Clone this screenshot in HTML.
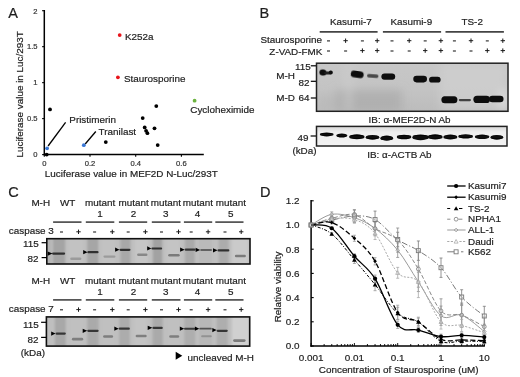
<!DOCTYPE html>
<html><head><meta charset="utf-8"><style>
html,body{margin:0;padding:0;background:#fff;}
svg{display:block;filter:blur(0.3px);font-family:"Liberation Sans",sans-serif;}
</style></head><body>
<svg width="520" height="377" viewBox="0 0 520 377">
<defs><filter id="bl1" x="-50%" y="-50%" width="200%" height="200%"><feGaussianBlur stdDeviation="0.9"/></filter>
<filter id="bl2" x="-50%" y="-50%" width="200%" height="200%"><feGaussianBlur stdDeviation="0.6"/></filter>
<filter id="bl12" x="-50%" y="-50%" width="200%" height="200%"><feGaussianBlur stdDeviation="1.1 0.3"/></filter>
<filter id="bl05" x="-50%" y="-50%" width="200%" height="200%"><feGaussianBlur stdDeviation="0.45"/></filter>
<filter id="bl07" x="-50%" y="-50%" width="200%" height="200%"><feGaussianBlur stdDeviation="0.7"/></filter>
<filter id="bl4" x="-50%" y="-50%" width="200%" height="200%"><feGaussianBlur stdDeviation="4"/></filter>
<clipPath id="clipB1"><rect x="316.5" y="63.2" width="191.5" height="48.1"/></clipPath><clipPath id="clip238"><rect x="46.8" y="238.7" width="203.2" height="25.3"/></clipPath><clipPath id="clip316"><rect x="46.4" y="316.9" width="203.3" height="29.2"/></clipPath>
<linearGradient id="gB1" x1="0" y1="0" x2="0" y2="1"><stop offset="0" stop-color="#c7c7c7"/><stop offset="0.5" stop-color="#c4c4c4"/><stop offset="1" stop-color="#bcbcbc"/></linearGradient>
<linearGradient id="gB2" x1="0" y1="0" x2="0" y2="1"><stop offset="0" stop-color="#d8d8d8"/><stop offset="0.3" stop-color="#eeeeee"/><stop offset="1" stop-color="#f2f2f2"/></linearGradient></defs>
<rect width="520" height="377" fill="#fff"/>
<text x="8.30" y="17.90" font-size="14.5" text-anchor="start" fill="#1e1e1e" stroke="#1e1e1e" stroke-width="0.2" >A</text>
<line x1="44.30" y1="10.00" x2="44.30" y2="155.40" stroke="#000" stroke-width="1.5" />
<line x1="43.60" y1="154.60" x2="203.80" y2="154.60" stroke="#000" stroke-width="1.5" />
<line x1="42.10" y1="154.60" x2="44.30" y2="154.60" stroke="#000" stroke-width="1.1" />
<text x="37.60" y="157.40" font-size="7.6" text-anchor="end" fill="#333" stroke="#333" stroke-width="0.2" >0</text>
<line x1="42.10" y1="118.62" x2="44.30" y2="118.62" stroke="#000" stroke-width="1.1" />
<text x="37.60" y="121.42" font-size="7.6" text-anchor="end" fill="#333" stroke="#333" stroke-width="0.2" >0.5</text>
<line x1="42.10" y1="82.65" x2="44.30" y2="82.65" stroke="#000" stroke-width="1.1" />
<text x="37.60" y="85.45" font-size="7.6" text-anchor="end" fill="#333" stroke="#333" stroke-width="0.2" >1</text>
<line x1="42.10" y1="46.67" x2="44.30" y2="46.67" stroke="#000" stroke-width="1.1" />
<text x="37.60" y="49.47" font-size="7.6" text-anchor="end" fill="#333" stroke="#333" stroke-width="0.2" >1.5</text>
<line x1="42.10" y1="10.70" x2="44.30" y2="10.70" stroke="#000" stroke-width="1.1" />
<text x="37.60" y="13.50" font-size="7.6" text-anchor="end" fill="#333" stroke="#333" stroke-width="0.2" >2</text>
<line x1="44.30" y1="154.60" x2="44.30" y2="156.80" stroke="#000" stroke-width="1.1" />
<text x="44.30" y="165.70" font-size="7.6" text-anchor="middle" fill="#333" stroke="#333" stroke-width="0.2" >0</text>
<line x1="90.00" y1="154.60" x2="90.00" y2="156.80" stroke="#000" stroke-width="1.1" />
<text x="90.00" y="165.70" font-size="7.6" text-anchor="middle" fill="#333" stroke="#333" stroke-width="0.2" >0.2</text>
<line x1="135.70" y1="154.60" x2="135.70" y2="156.80" stroke="#000" stroke-width="1.1" />
<text x="135.70" y="165.70" font-size="7.6" text-anchor="middle" fill="#333" stroke="#333" stroke-width="0.2" >0.4</text>
<line x1="181.40" y1="154.60" x2="181.40" y2="156.80" stroke="#000" stroke-width="1.1" />
<text x="181.40" y="165.70" font-size="7.6" text-anchor="middle" fill="#333" stroke="#333" stroke-width="0.2" >0.6</text>
<text x="131.30" y="177.30" font-size="9.9" text-anchor="middle" fill="#1e1e1e" stroke="#1e1e1e" stroke-width="0.2" >Luciferase value in MEF2D N-Luc/293T</text>
<text x="23.30" y="94.40" font-size="9.9" text-anchor="middle" fill="#1e1e1e" stroke="#1e1e1e" stroke-width="0.2" transform="rotate(-90 23.3 94.4)">Luciferase value in Luc/293T</text>
<line x1="48.10" y1="146.00" x2="65.60" y2="122.30" stroke="#000" stroke-width="1.3" />
<line x1="85.20" y1="144.00" x2="95.80" y2="131.50" stroke="#000" stroke-width="1.3" />
<circle cx="50.00" cy="109.40" r="1.9" fill="#000" />
<circle cx="46.70" cy="154.60" r="1.9" fill="#000" />
<circle cx="105.80" cy="142.10" r="1.9" fill="#000" />
<circle cx="156.30" cy="106.10" r="1.9" fill="#000" />
<circle cx="142.70" cy="118.10" r="1.9" fill="#000" />
<circle cx="144.70" cy="127.40" r="1.9" fill="#000" />
<circle cx="146.10" cy="130.80" r="1.9" fill="#000" />
<circle cx="147.40" cy="133.20" r="1.9" fill="#000" />
<circle cx="154.50" cy="128.30" r="1.9" fill="#000" />
<circle cx="157.70" cy="145.10" r="1.9" fill="#000" />
<circle cx="119.70" cy="35.10" r="1.9" fill="#e8141b" />
<circle cx="117.90" cy="77.30" r="1.9" fill="#e8141b" />
<circle cx="194.60" cy="100.70" r="1.9" fill="#6cb33f" />
<circle cx="47.10" cy="148.30" r="1.9" fill="#3a78d6" />
<circle cx="83.80" cy="145.20" r="1.9" fill="#3a78d6" />
<text x="125.00" y="39.70" font-size="9.9" text-anchor="start" fill="#1e1e1e" stroke="#1e1e1e" stroke-width="0.2" >K252a</text>
<text x="124.00" y="81.50" font-size="9.9" text-anchor="start" fill="#1e1e1e" stroke="#1e1e1e" stroke-width="0.2" >Staurosporine</text>
<text x="190.30" y="112.50" font-size="9.9" text-anchor="start" fill="#1e1e1e" stroke="#1e1e1e" stroke-width="0.2" >Cycloheximide</text>
<text x="69.30" y="122.90" font-size="9.9" text-anchor="start" fill="#1e1e1e" stroke="#1e1e1e" stroke-width="0.2" >Pristimerin</text>
<text x="98.60" y="134.80" font-size="9.9" text-anchor="start" fill="#1e1e1e" stroke="#1e1e1e" stroke-width="0.2" >Tranilast</text>
<text x="259.60" y="17.70" font-size="14.5" text-anchor="start" fill="#1e1e1e" stroke="#1e1e1e" stroke-width="0.2" >B</text>
<text x="350.90" y="24.80" font-size="9.9" text-anchor="middle" fill="#1e1e1e" stroke="#1e1e1e" stroke-width="0.2" >Kasumi-7</text>
<text x="411.30" y="24.90" font-size="9.9" text-anchor="middle" fill="#1e1e1e" stroke="#1e1e1e" stroke-width="0.2" >Kasumi-9</text>
<text x="472.20" y="24.90" font-size="9.9" text-anchor="middle" fill="#1e1e1e" stroke="#1e1e1e" stroke-width="0.2" >TS-2</text>
<line x1="319.70" y1="31.90" x2="377.60" y2="31.90" stroke="#444" stroke-width="1.7" />
<line x1="382.90" y1="31.90" x2="441.10" y2="31.90" stroke="#444" stroke-width="1.7" />
<line x1="445.50" y1="31.90" x2="503.90" y2="31.90" stroke="#444" stroke-width="1.7" />
<text x="322.00" y="42.60" font-size="9.9" text-anchor="end" fill="#1e1e1e" stroke="#1e1e1e" stroke-width="0.2" >Staurosporine</text>
<text x="322.40" y="54.70" font-size="9.9" text-anchor="end" fill="#1e1e1e" stroke="#1e1e1e" stroke-width="0.2" >Z-VAD-FMK</text>
<line x1="327.00" y1="40.90" x2="330.00" y2="40.90" stroke="#222" stroke-width="1.1" />
<line x1="327.00" y1="51.00" x2="330.00" y2="51.00" stroke="#222" stroke-width="1.1" />
<line x1="343.40" y1="40.70" x2="347.80" y2="40.70" stroke="#1a1a1a" stroke-width="1.0" />
<line x1="345.60" y1="38.50" x2="345.60" y2="42.90" stroke="#1a1a1a" stroke-width="1.0" />
<line x1="344.10" y1="51.00" x2="347.10" y2="51.00" stroke="#222" stroke-width="1.1" />
<line x1="360.90" y1="40.90" x2="363.90" y2="40.90" stroke="#222" stroke-width="1.1" />
<line x1="360.20" y1="50.60" x2="364.60" y2="50.60" stroke="#1a1a1a" stroke-width="1.0" />
<line x1="362.40" y1="48.40" x2="362.40" y2="52.80" stroke="#1a1a1a" stroke-width="1.0" />
<line x1="375.00" y1="40.70" x2="379.40" y2="40.70" stroke="#1a1a1a" stroke-width="1.0" />
<line x1="377.20" y1="38.50" x2="377.20" y2="42.90" stroke="#1a1a1a" stroke-width="1.0" />
<line x1="375.00" y1="50.60" x2="379.40" y2="50.60" stroke="#1a1a1a" stroke-width="1.0" />
<line x1="377.20" y1="48.40" x2="377.20" y2="52.80" stroke="#1a1a1a" stroke-width="1.0" />
<line x1="390.50" y1="40.90" x2="393.50" y2="40.90" stroke="#222" stroke-width="1.1" />
<line x1="390.50" y1="51.00" x2="393.50" y2="51.00" stroke="#222" stroke-width="1.1" />
<line x1="407.00" y1="40.70" x2="411.40" y2="40.70" stroke="#1a1a1a" stroke-width="1.0" />
<line x1="409.20" y1="38.50" x2="409.20" y2="42.90" stroke="#1a1a1a" stroke-width="1.0" />
<line x1="407.70" y1="51.00" x2="410.70" y2="51.00" stroke="#222" stroke-width="1.1" />
<line x1="423.70" y1="40.90" x2="426.70" y2="40.90" stroke="#222" stroke-width="1.1" />
<line x1="423.00" y1="50.60" x2="427.40" y2="50.60" stroke="#1a1a1a" stroke-width="1.0" />
<line x1="425.20" y1="48.40" x2="425.20" y2="52.80" stroke="#1a1a1a" stroke-width="1.0" />
<line x1="438.70" y1="40.70" x2="443.10" y2="40.70" stroke="#1a1a1a" stroke-width="1.0" />
<line x1="440.90" y1="38.50" x2="440.90" y2="42.90" stroke="#1a1a1a" stroke-width="1.0" />
<line x1="438.70" y1="50.60" x2="443.10" y2="50.60" stroke="#1a1a1a" stroke-width="1.0" />
<line x1="440.90" y1="48.40" x2="440.90" y2="52.80" stroke="#1a1a1a" stroke-width="1.0" />
<line x1="452.90" y1="40.90" x2="455.90" y2="40.90" stroke="#222" stroke-width="1.1" />
<line x1="452.90" y1="51.00" x2="455.90" y2="51.00" stroke="#222" stroke-width="1.1" />
<line x1="468.80" y1="40.70" x2="473.20" y2="40.70" stroke="#1a1a1a" stroke-width="1.0" />
<line x1="471.00" y1="38.50" x2="471.00" y2="42.90" stroke="#1a1a1a" stroke-width="1.0" />
<line x1="469.50" y1="51.00" x2="472.50" y2="51.00" stroke="#222" stroke-width="1.1" />
<line x1="485.80" y1="40.90" x2="488.80" y2="40.90" stroke="#222" stroke-width="1.1" />
<line x1="485.10" y1="50.60" x2="489.50" y2="50.60" stroke="#1a1a1a" stroke-width="1.0" />
<line x1="487.30" y1="48.40" x2="487.30" y2="52.80" stroke="#1a1a1a" stroke-width="1.0" />
<line x1="500.60" y1="40.70" x2="505.00" y2="40.70" stroke="#1a1a1a" stroke-width="1.0" />
<line x1="502.80" y1="38.50" x2="502.80" y2="42.90" stroke="#1a1a1a" stroke-width="1.0" />
<line x1="500.60" y1="50.60" x2="505.00" y2="50.60" stroke="#1a1a1a" stroke-width="1.0" />
<line x1="502.80" y1="48.40" x2="502.80" y2="52.80" stroke="#1a1a1a" stroke-width="1.0" />
<text x="276.20" y="79.20" font-size="9.9" text-anchor="start" fill="#1e1e1e" stroke="#1e1e1e" stroke-width="0.2" >M-H</text>
<text x="276.20" y="101.10" font-size="9.9" text-anchor="start" fill="#1e1e1e" stroke="#1e1e1e" stroke-width="0.2" >M-D</text>
<text x="310.80" y="69.60" font-size="9.9" text-anchor="end" fill="#1e1e1e" stroke="#1e1e1e" stroke-width="0.2" >115</text>
<text x="309.60" y="86.00" font-size="9.9" text-anchor="end" fill="#1e1e1e" stroke="#1e1e1e" stroke-width="0.2" >82</text>
<text x="309.60" y="101.40" font-size="9.9" text-anchor="end" fill="#1e1e1e" stroke="#1e1e1e" stroke-width="0.2" >64</text>
<line x1="310.80" y1="65.80" x2="316.50" y2="65.80" stroke="#000" stroke-width="1.2" />
<line x1="310.80" y1="81.30" x2="316.50" y2="81.30" stroke="#000" stroke-width="1.2" />
<line x1="310.80" y1="98.00" x2="316.50" y2="98.00" stroke="#000" stroke-width="1.2" />
<text x="368.60" y="123.20" font-size="9.9" text-anchor="start" fill="#1e1e1e" stroke="#1e1e1e" stroke-width="0.2" >IB: α-MEF2D-N Ab</text>
<text x="308.60" y="140.80" font-size="9.9" text-anchor="end" fill="#1e1e1e" stroke="#1e1e1e" stroke-width="0.2" >49</text>
<line x1="310.60" y1="136.00" x2="316.50" y2="136.00" stroke="#000" stroke-width="1.2" />
<text x="292.40" y="154.10" font-size="9.9" text-anchor="start" fill="#1e1e1e" stroke="#1e1e1e" stroke-width="0.2" >(kDa)</text>
<text x="367.20" y="157.80" font-size="9.9" text-anchor="start" fill="#1e1e1e" stroke="#1e1e1e" stroke-width="0.2" >IB: α-ACTB Ab</text>
<rect x="316.50" y="63.20" width="191.50" height="48.10" fill="url(#gB1)" />
<g clip-path="url(#clipB1)"><g filter="url(#bl4)">
<rect x="336.00" y="90.00" width="66.00" height="22.00" fill="#a9a9a9" opacity="0.7"/>
<rect x="320.00" y="95.00" width="18.00" height="16.00" fill="#b8b8b8" opacity="0.6"/>
<rect x="346.00" y="64.00" width="5.00" height="46.00" fill="#d0d0d0" opacity="0.7"/>
<rect x="440.00" y="64.00" width="66.00" height="46.00" fill="#d2d2d2" opacity="0.6"/>
<rect x="500.00" y="90.00" width="8.00" height="20.00" fill="#e4e4e4" opacity="0.8"/>
</g></g>
<rect x="316.5" y="63.2" width="191.5" height="48.1" fill="none" stroke="#222" stroke-width="1.5"/>
<rect x="319.40" y="69.60" width="7.00" height="6.00" rx="3.00" fill="#0a0a0a" opacity="1.0" filter="url(#bl2)" transform="rotate(6 322.90 72.60)"/>
<rect x="324.00" y="71.50" width="7.00" height="3.00" rx="1.50" fill="#1a1a1a" opacity="0.95" filter="url(#bl2)"/>
<rect x="328.80" y="70.60" width="4.00" height="3.80" rx="1.90" fill="#0a0a0a" opacity="1.0" filter="url(#bl2)"/>
<rect x="350.80" y="71.10" width="12.80" height="6.60" rx="3.30" fill="#0a0a0a" opacity="1.0" filter="url(#bl2)" transform="rotate(8 357.20 74.40)"/>
<rect x="367.00" y="74.20" width="11.50" height="3.60" rx="1.80" fill="#3a3a3a" opacity="0.9" filter="url(#bl2)" transform="rotate(4 372.75 76.00)"/>
<rect x="381.40" y="73.40" width="13.80" height="6.40" rx="3.20" fill="#0a0a0a" opacity="1.0" filter="url(#bl2)"/>
<rect x="413.30" y="75.80" width="13.70" height="6.60" rx="3.30" fill="#0a0a0a" opacity="1.0" filter="url(#bl2)"/>
<rect x="429.10" y="76.80" width="11.50" height="5.80" rx="2.90" fill="#0a0a0a" opacity="1.0" filter="url(#bl2)"/>
<rect x="441.40" y="96.20" width="16.00" height="7.00" rx="3.50" fill="#0a0a0a" opacity="1.0" filter="url(#bl2)"/>
<rect x="458.80" y="98.95" width="12.20" height="2.30" rx="1.15" fill="#2a2a2a" opacity="0.85" filter="url(#bl2)"/>
<rect x="473.40" y="95.80" width="16.60" height="7.20" rx="3.60" fill="#0a0a0a" opacity="1.0" filter="url(#bl2)"/>
<rect x="489.00" y="95.70" width="14.50" height="6.60" rx="3.30" fill="#0a0a0a" opacity="1.0" filter="url(#bl2)"/>
<rect x="316.50" y="126.40" width="190.50" height="19.60" fill="url(#gB2)" />
<ellipse cx="326.70" cy="134.40" rx="6.00" ry="2.00" fill="#080808" opacity="1.0" filter="url(#bl2)"/>
<rect x="319.90" y="133.30" width="13.60" height="2.20" rx="1.10" fill="#080808" opacity="1.0" filter="url(#bl2)"/>
<ellipse cx="341.80" cy="135.60" rx="4.70" ry="2.00" fill="#080808" opacity="1.0" filter="url(#bl2)"/>
<rect x="336.30" y="134.50" width="11.00" height="2.20" rx="1.10" fill="#080808" opacity="1.0" filter="url(#bl2)"/>
<ellipse cx="356.85" cy="136.80" rx="6.85" ry="2.50" fill="#080808" opacity="1.0" filter="url(#bl2)"/>
<rect x="349.20" y="135.20" width="15.30" height="3.20" rx="1.60" fill="#080808" opacity="1.0" filter="url(#bl2)"/>
<ellipse cx="372.50" cy="137.30" rx="6.00" ry="2.40" fill="#080808" opacity="1.0" filter="url(#bl2)"/>
<rect x="365.70" y="135.80" width="13.60" height="3.00" rx="1.50" fill="#080808" opacity="1.0" filter="url(#bl2)"/>
<ellipse cx="386.75" cy="138.20" rx="5.55" ry="2.60" fill="#080808" opacity="1.0" filter="url(#bl2)"/>
<rect x="380.40" y="136.50" width="12.70" height="3.40" rx="1.70" fill="#080808" opacity="1.0" filter="url(#bl2)"/>
<ellipse cx="404.05" cy="137.00" rx="6.45" ry="2.30" fill="#080808" opacity="1.0" filter="url(#bl2)"/>
<rect x="396.80" y="135.60" width="14.50" height="2.80" rx="1.40" fill="#080808" opacity="1.0" filter="url(#bl2)"/>
<ellipse cx="420.50" cy="137.30" rx="7.30" ry="2.90" fill="#080808" opacity="1.0" filter="url(#bl2)"/>
<rect x="412.40" y="135.30" width="16.20" height="4.00" rx="2.00" fill="#080808" opacity="1.0" filter="url(#bl2)"/>
<ellipse cx="435.15" cy="136.90" rx="6.65" ry="2.60" fill="#080808" opacity="1.0" filter="url(#bl2)"/>
<rect x="427.70" y="135.20" width="14.90" height="3.40" rx="1.70" fill="#080808" opacity="1.0" filter="url(#bl2)"/>
<ellipse cx="450.35" cy="137.00" rx="6.15" ry="2.40" fill="#080808" opacity="1.0" filter="url(#bl2)"/>
<rect x="443.40" y="135.50" width="13.90" height="3.00" rx="1.50" fill="#080808" opacity="1.0" filter="url(#bl2)"/>
<ellipse cx="465.65" cy="136.40" rx="6.45" ry="2.20" fill="#080808" opacity="1.0" filter="url(#bl2)"/>
<rect x="458.40" y="135.10" width="14.50" height="2.60" rx="1.30" fill="#080808" opacity="1.0" filter="url(#bl2)"/>
<ellipse cx="482.10" cy="136.80" rx="6.40" ry="2.30" fill="#080808" opacity="1.0" filter="url(#bl2)"/>
<rect x="474.90" y="135.40" width="14.40" height="2.80" rx="1.40" fill="#080808" opacity="1.0" filter="url(#bl2)"/>
<ellipse cx="496.85" cy="137.30" rx="5.55" ry="2.40" fill="#080808" opacity="1.0" filter="url(#bl2)"/>
<rect x="490.50" y="135.80" width="12.70" height="3.00" rx="1.50" fill="#080808" opacity="1.0" filter="url(#bl2)"/>
<rect x="316.5" y="126.4" width="190.5" height="19.6" fill="none" stroke="#222" stroke-width="1.5"/>
<text x="8.20" y="197.20" font-size="14.5" text-anchor="start" fill="#1e1e1e" stroke="#1e1e1e" stroke-width="0.2" >C</text>
<text x="31.40" y="205.90" font-size="9.9" text-anchor="start" fill="#1e1e1e" stroke="#1e1e1e" stroke-width="0.2" >M-H</text>
<text x="67.70" y="205.80" font-size="9.9" text-anchor="middle" fill="#1e1e1e" stroke="#1e1e1e" stroke-width="0.2" >WT</text>
<text x="85.10" y="205.80" font-size="9.9" text-anchor="start" fill="#1e1e1e" stroke="#1e1e1e" stroke-width="0.2" >mutant</text>
<text x="100.00" y="217.10" font-size="9.9" text-anchor="middle" fill="#1e1e1e" stroke="#1e1e1e" stroke-width="0.2" >1</text>
<text x="118.50" y="205.80" font-size="9.9" text-anchor="start" fill="#1e1e1e" stroke="#1e1e1e" stroke-width="0.2" >mutant</text>
<text x="133.40" y="217.10" font-size="9.9" text-anchor="middle" fill="#1e1e1e" stroke="#1e1e1e" stroke-width="0.2" >2</text>
<text x="150.80" y="205.80" font-size="9.9" text-anchor="start" fill="#1e1e1e" stroke="#1e1e1e" stroke-width="0.2" >mutant</text>
<text x="165.70" y="217.10" font-size="9.9" text-anchor="middle" fill="#1e1e1e" stroke="#1e1e1e" stroke-width="0.2" >3</text>
<text x="182.70" y="205.80" font-size="9.9" text-anchor="start" fill="#1e1e1e" stroke="#1e1e1e" stroke-width="0.2" >mutant</text>
<text x="197.60" y="217.10" font-size="9.9" text-anchor="middle" fill="#1e1e1e" stroke="#1e1e1e" stroke-width="0.2" >4</text>
<text x="215.80" y="205.80" font-size="9.9" text-anchor="start" fill="#1e1e1e" stroke="#1e1e1e" stroke-width="0.2" >mutant</text>
<text x="230.70" y="217.10" font-size="9.9" text-anchor="middle" fill="#1e1e1e" stroke="#1e1e1e" stroke-width="0.2" >5</text>
<line x1="53.10" y1="222.10" x2="81.50" y2="222.10" stroke="#444" stroke-width="1.6" />
<line x1="85.80" y1="222.10" x2="114.30" y2="222.10" stroke="#444" stroke-width="1.6" />
<line x1="118.90" y1="222.10" x2="147.20" y2="222.10" stroke="#444" stroke-width="1.6" />
<line x1="151.80" y1="222.10" x2="180.50" y2="222.10" stroke="#444" stroke-width="1.6" />
<line x1="183.90" y1="222.10" x2="212.20" y2="222.10" stroke="#444" stroke-width="1.6" />
<line x1="215.30" y1="222.10" x2="243.50" y2="222.10" stroke="#444" stroke-width="1.6" />
<text x="8.80" y="234.30" font-size="9.9" text-anchor="start" fill="#1e1e1e" stroke="#1e1e1e" stroke-width="0.2" >caspase 3</text>
<line x1="60.00" y1="232.00" x2="63.00" y2="232.00" stroke="#222" stroke-width="1.1" />
<line x1="76.30" y1="231.80" x2="80.70" y2="231.80" stroke="#1a1a1a" stroke-width="1.0" />
<line x1="78.50" y1="229.60" x2="78.50" y2="234.00" stroke="#1a1a1a" stroke-width="1.0" />
<line x1="93.10" y1="232.00" x2="96.10" y2="232.00" stroke="#222" stroke-width="1.1" />
<line x1="110.10" y1="231.80" x2="114.50" y2="231.80" stroke="#1a1a1a" stroke-width="1.0" />
<line x1="112.30" y1="229.60" x2="112.30" y2="234.00" stroke="#1a1a1a" stroke-width="1.0" />
<line x1="126.70" y1="232.00" x2="129.70" y2="232.00" stroke="#222" stroke-width="1.1" />
<line x1="143.20" y1="231.80" x2="147.60" y2="231.80" stroke="#1a1a1a" stroke-width="1.0" />
<line x1="145.40" y1="229.60" x2="145.40" y2="234.00" stroke="#1a1a1a" stroke-width="1.0" />
<line x1="160.00" y1="232.00" x2="163.00" y2="232.00" stroke="#222" stroke-width="1.1" />
<line x1="176.30" y1="231.80" x2="180.70" y2="231.80" stroke="#1a1a1a" stroke-width="1.0" />
<line x1="178.50" y1="229.60" x2="178.50" y2="234.00" stroke="#1a1a1a" stroke-width="1.0" />
<line x1="189.70" y1="232.00" x2="192.70" y2="232.00" stroke="#222" stroke-width="1.1" />
<line x1="205.90" y1="231.80" x2="210.30" y2="231.80" stroke="#1a1a1a" stroke-width="1.0" />
<line x1="208.10" y1="229.60" x2="208.10" y2="234.00" stroke="#1a1a1a" stroke-width="1.0" />
<line x1="223.50" y1="232.00" x2="226.50" y2="232.00" stroke="#222" stroke-width="1.1" />
<line x1="239.00" y1="231.80" x2="243.40" y2="231.80" stroke="#1a1a1a" stroke-width="1.0" />
<line x1="241.20" y1="229.60" x2="241.20" y2="234.00" stroke="#1a1a1a" stroke-width="1.0" />
<text x="31.40" y="283.70" font-size="9.9" text-anchor="start" fill="#1e1e1e" stroke="#1e1e1e" stroke-width="0.2" >M-H</text>
<text x="67.70" y="283.60" font-size="9.9" text-anchor="middle" fill="#1e1e1e" stroke="#1e1e1e" stroke-width="0.2" >WT</text>
<text x="85.10" y="283.60" font-size="9.9" text-anchor="start" fill="#1e1e1e" stroke="#1e1e1e" stroke-width="0.2" >mutant</text>
<text x="100.00" y="294.90" font-size="9.9" text-anchor="middle" fill="#1e1e1e" stroke="#1e1e1e" stroke-width="0.2" >1</text>
<text x="118.50" y="283.60" font-size="9.9" text-anchor="start" fill="#1e1e1e" stroke="#1e1e1e" stroke-width="0.2" >mutant</text>
<text x="133.40" y="294.90" font-size="9.9" text-anchor="middle" fill="#1e1e1e" stroke="#1e1e1e" stroke-width="0.2" >2</text>
<text x="150.80" y="283.60" font-size="9.9" text-anchor="start" fill="#1e1e1e" stroke="#1e1e1e" stroke-width="0.2" >mutant</text>
<text x="165.70" y="294.90" font-size="9.9" text-anchor="middle" fill="#1e1e1e" stroke="#1e1e1e" stroke-width="0.2" >3</text>
<text x="182.70" y="283.60" font-size="9.9" text-anchor="start" fill="#1e1e1e" stroke="#1e1e1e" stroke-width="0.2" >mutant</text>
<text x="197.60" y="294.90" font-size="9.9" text-anchor="middle" fill="#1e1e1e" stroke="#1e1e1e" stroke-width="0.2" >4</text>
<text x="215.80" y="283.60" font-size="9.9" text-anchor="start" fill="#1e1e1e" stroke="#1e1e1e" stroke-width="0.2" >mutant</text>
<text x="230.70" y="294.90" font-size="9.9" text-anchor="middle" fill="#1e1e1e" stroke="#1e1e1e" stroke-width="0.2" >5</text>
<line x1="53.10" y1="299.90" x2="81.50" y2="299.90" stroke="#444" stroke-width="1.6" />
<line x1="85.80" y1="299.90" x2="114.30" y2="299.90" stroke="#444" stroke-width="1.6" />
<line x1="118.90" y1="299.90" x2="147.20" y2="299.90" stroke="#444" stroke-width="1.6" />
<line x1="151.80" y1="299.90" x2="180.50" y2="299.90" stroke="#444" stroke-width="1.6" />
<line x1="183.90" y1="299.90" x2="212.20" y2="299.90" stroke="#444" stroke-width="1.6" />
<line x1="215.30" y1="299.90" x2="243.50" y2="299.90" stroke="#444" stroke-width="1.6" />
<text x="8.80" y="312.10" font-size="9.9" text-anchor="start" fill="#1e1e1e" stroke="#1e1e1e" stroke-width="0.2" >caspase 7</text>
<line x1="60.00" y1="309.80" x2="63.00" y2="309.80" stroke="#222" stroke-width="1.1" />
<line x1="76.30" y1="309.60" x2="80.70" y2="309.60" stroke="#1a1a1a" stroke-width="1.0" />
<line x1="78.50" y1="307.40" x2="78.50" y2="311.80" stroke="#1a1a1a" stroke-width="1.0" />
<line x1="93.10" y1="309.80" x2="96.10" y2="309.80" stroke="#222" stroke-width="1.1" />
<line x1="110.10" y1="309.60" x2="114.50" y2="309.60" stroke="#1a1a1a" stroke-width="1.0" />
<line x1="112.30" y1="307.40" x2="112.30" y2="311.80" stroke="#1a1a1a" stroke-width="1.0" />
<line x1="126.70" y1="309.80" x2="129.70" y2="309.80" stroke="#222" stroke-width="1.1" />
<line x1="143.20" y1="309.60" x2="147.60" y2="309.60" stroke="#1a1a1a" stroke-width="1.0" />
<line x1="145.40" y1="307.40" x2="145.40" y2="311.80" stroke="#1a1a1a" stroke-width="1.0" />
<line x1="160.00" y1="309.80" x2="163.00" y2="309.80" stroke="#222" stroke-width="1.1" />
<line x1="176.30" y1="309.60" x2="180.70" y2="309.60" stroke="#1a1a1a" stroke-width="1.0" />
<line x1="178.50" y1="307.40" x2="178.50" y2="311.80" stroke="#1a1a1a" stroke-width="1.0" />
<line x1="189.70" y1="309.80" x2="192.70" y2="309.80" stroke="#222" stroke-width="1.1" />
<line x1="205.90" y1="309.60" x2="210.30" y2="309.60" stroke="#1a1a1a" stroke-width="1.0" />
<line x1="208.10" y1="307.40" x2="208.10" y2="311.80" stroke="#1a1a1a" stroke-width="1.0" />
<line x1="223.50" y1="309.80" x2="226.50" y2="309.80" stroke="#222" stroke-width="1.1" />
<line x1="239.00" y1="309.60" x2="243.40" y2="309.60" stroke="#1a1a1a" stroke-width="1.0" />
<line x1="241.20" y1="307.40" x2="241.20" y2="311.80" stroke="#1a1a1a" stroke-width="1.0" />
<rect x="46.80" y="238.70" width="203.20" height="25.30" fill="#bfbfbf" />
<g filter="url(#bl12)" clip-path="url(#clip238)">
<rect x="46.00" y="238.70" width="5.00" height="25.30" fill="#b4b4b4" />
<rect x="52.90" y="238.70" width="12.30" height="25.30" fill="#a4a4a4" />
<rect x="69.00" y="238.70" width="14.00" height="25.30" fill="#c2c2c2" />
<rect x="87.20" y="238.70" width="11.00" height="25.30" fill="#a6a6a6" />
<rect x="102.00" y="238.70" width="13.00" height="25.30" fill="#c2c2c2" />
<rect x="120.40" y="238.70" width="10.10" height="25.30" fill="#a8a8a8" />
<rect x="135.00" y="238.70" width="13.00" height="25.30" fill="#c6c6c6" />
<rect x="152.90" y="238.70" width="9.30" height="25.30" fill="#a2a2a2" />
<rect x="166.00" y="238.70" width="14.00" height="25.30" fill="#c4c4c4" />
<rect x="184.90" y="238.70" width="9.90" height="25.30" fill="#aaaaaa" />
<rect x="199.00" y="238.70" width="13.00" height="25.30" fill="#bababa" />
<rect x="218.70" y="238.70" width="9.90" height="25.30" fill="#acacac" />
<rect x="232.00" y="238.70" width="16.00" height="25.30" fill="#cacaca" />
</g>
<rect x="52.00" y="252.50" width="13.20" height="2.20" rx="1.10" fill="#2c2c2c" opacity="0.95" filter="url(#bl07)"/>
<rect x="70.20" y="257.55" width="11.20" height="2.50" rx="1.25" fill="#6e6e6e" opacity="0.45" filter="url(#bl07)"/>
<rect x="87.30" y="251.10" width="11.30" height="2.20" rx="1.10" fill="#2c2c2c" opacity="0.95" filter="url(#bl07)"/>
<rect x="103.40" y="255.48" width="12.10" height="2.25" rx="1.12" fill="#6e6e6e" opacity="0.45" filter="url(#bl07)"/>
<rect x="119.50" y="248.70" width="11.00" height="2.20" rx="1.10" fill="#2c2c2c" opacity="0.95" filter="url(#bl07)"/>
<rect x="137.10" y="253.55" width="10.40" height="2.50" rx="1.25" fill="#6e6e6e" opacity="0.7" filter="url(#bl07)"/>
<rect x="151.30" y="247.40" width="10.90" height="2.20" rx="1.10" fill="#2c2c2c" opacity="0.95" filter="url(#bl07)"/>
<rect x="168.20" y="253.95" width="11.50" height="2.50" rx="1.25" fill="#6e6e6e" opacity="0.85" filter="url(#bl07)"/>
<rect x="184.70" y="248.60" width="10.90" height="2.20" rx="1.10" fill="#2c2c2c" opacity="0.9" filter="url(#bl07)"/>
<rect x="200.20" y="249.01" width="11.80" height="1.98" rx="0.99" fill="#333" opacity="0.65" filter="url(#bl07)"/>
<rect x="217.50" y="249.30" width="11.90" height="2.20" rx="1.10" fill="#2c2c2c" opacity="0.95" filter="url(#bl07)"/>
<rect x="234.90" y="254.85" width="11.00" height="2.50" rx="1.25" fill="#6e6e6e" opacity="0.85" filter="url(#bl07)"/>
<rect x="46.8" y="238.7" width="203.2" height="25.3" fill="none" stroke="#111" stroke-width="1.6"/>
<rect x="46.40" y="316.90" width="203.30" height="29.20" fill="#bfbfbf" />
<g filter="url(#bl12)" clip-path="url(#clip316)">
<rect x="54.80" y="316.90" width="10.90" height="29.20" fill="#a8a8a8" />
<rect x="70.00" y="316.90" width="14.00" height="29.20" fill="#c0c0c0" />
<rect x="87.20" y="316.90" width="11.30" height="29.20" fill="#aaaaaa" />
<rect x="102.00" y="316.90" width="13.00" height="29.20" fill="#c0c0c0" />
<rect x="119.20" y="316.90" width="10.60" height="29.20" fill="#acacac" />
<rect x="134.00" y="316.90" width="13.00" height="29.20" fill="#c4c4c4" />
<rect x="152.60" y="316.90" width="10.20" height="29.20" fill="#aaaaaa" />
<rect x="167.00" y="316.90" width="13.00" height="29.20" fill="#c0c0c0" />
<rect x="184.20" y="316.90" width="11.10" height="29.20" fill="#aeaeae" />
<rect x="199.00" y="316.90" width="13.00" height="29.20" fill="#b8b8b8" />
<rect x="216.80" y="316.90" width="11.00" height="29.20" fill="#aeaeae" />
<rect x="232.00" y="316.90" width="17.00" height="29.20" fill="#d0d0d0" />
</g>
<rect x="55.50" y="332.50" width="10.40" height="2.20" rx="1.10" fill="#2c2c2c" opacity="0.9" filter="url(#bl07)"/>
<rect x="71.90" y="337.82" width="11.30" height="2.75" rx="1.38" fill="#6e6e6e" opacity="0.8" filter="url(#bl07)"/>
<rect x="87.20" y="329.70" width="11.50" height="2.20" rx="1.10" fill="#2c2c2c" opacity="0.9" filter="url(#bl07)"/>
<rect x="103.10" y="335.15" width="10.00" height="2.50" rx="1.25" fill="#6e6e6e" opacity="0.8" filter="url(#bl07)"/>
<rect x="118.70" y="327.60" width="11.20" height="2.20" rx="1.10" fill="#2c2c2c" opacity="0.9" filter="url(#bl07)"/>
<rect x="135.60" y="334.75" width="11.10" height="2.50" rx="1.25" fill="#6e6e6e" opacity="0.8" filter="url(#bl07)"/>
<rect x="152.40" y="326.80" width="10.40" height="2.20" rx="1.10" fill="#2c2c2c" opacity="0.9" filter="url(#bl07)"/>
<rect x="169.20" y="335.25" width="10.00" height="2.50" rx="1.25" fill="#6e6e6e" opacity="0.8" filter="url(#bl07)"/>
<rect x="184.00" y="327.71" width="11.30" height="1.98" rx="0.99" fill="#2a2a2a" opacity="0.85" filter="url(#bl07)"/>
<rect x="199.30" y="327.82" width="12.50" height="1.76" rx="0.88" fill="#333" opacity="0.75" filter="url(#bl07)"/>
<rect x="201.10" y="335.30" width="10.70" height="2.00" rx="1.00" fill="#6e6e6e" opacity="0.5" filter="url(#bl07)"/>
<rect x="216.60" y="329.70" width="11.20" height="2.20" rx="1.10" fill="#2c2c2c" opacity="0.9" filter="url(#bl07)"/>
<rect x="233.10" y="339.23" width="12.50" height="2.75" rx="1.38" fill="#6e6e6e" opacity="0.85" filter="url(#bl07)"/>
<rect x="46.4" y="316.9" width="203.3" height="29.2" fill="none" stroke="#111" stroke-width="1.6"/>
<polygon points="47.70,251.50 52.50,253.60 47.70,255.70" fill="#000"/>
<polygon points="83.20,250.10 87.50,252.20 83.20,254.30" fill="#000"/>
<polygon points="115.10,247.60 119.50,249.70 115.10,251.80" fill="#000"/>
<polygon points="147.20,246.30 151.30,248.40 147.20,250.50" fill="#000"/>
<polygon points="180.10,247.60 184.70,249.70 180.10,251.80" fill="#000"/>
<polygon points="195.60,247.80 200.20,249.90 195.60,252.00" fill="#000"/>
<polygon points="213.00,248.20 217.50,250.30 213.00,252.40" fill="#000"/>
<polygon points="51.20,331.50 55.50,333.60 51.20,335.70" fill="#000"/>
<polygon points="82.70,328.70 87.20,330.80 82.70,332.90" fill="#000"/>
<polygon points="114.30,326.60 118.70,328.70 114.30,330.80" fill="#000"/>
<polygon points="147.70,325.70 152.40,327.80 147.70,329.90" fill="#000"/>
<polygon points="179.80,326.60 184.20,328.70 179.80,330.80" fill="#000"/>
<polygon points="194.90,326.60 199.30,328.70 194.90,330.80" fill="#000"/>
<polygon points="212.30,328.00 216.60,330.10 212.30,332.20" fill="#000"/>
<text x="38.80" y="247.30" font-size="9.9" text-anchor="end" fill="#1e1e1e" stroke="#1e1e1e" stroke-width="0.2" >115</text>
<text x="38.40" y="262.40" font-size="9.9" text-anchor="end" fill="#1e1e1e" stroke="#1e1e1e" stroke-width="0.2" >82</text>
<line x1="41.60" y1="242.70" x2="46.80" y2="242.70" stroke="#000" stroke-width="1.2" />
<line x1="41.60" y1="257.60" x2="46.80" y2="257.60" stroke="#000" stroke-width="1.2" />
<text x="38.80" y="327.90" font-size="9.9" text-anchor="end" fill="#1e1e1e" stroke="#1e1e1e" stroke-width="0.2" >115</text>
<text x="38.40" y="342.80" font-size="9.9" text-anchor="end" fill="#1e1e1e" stroke="#1e1e1e" stroke-width="0.2" >82</text>
<line x1="41.10" y1="322.30" x2="46.40" y2="322.30" stroke="#000" stroke-width="1.2" />
<line x1="41.10" y1="337.40" x2="46.40" y2="337.40" stroke="#000" stroke-width="1.2" />
<text x="20.80" y="355.50" font-size="9.9" text-anchor="start" fill="#1e1e1e" stroke="#1e1e1e" stroke-width="0.2" >(kDa)</text>
<polygon points="175.7,351.8 182.3,355.8 175.7,359.8" fill="#000"/>
<text x="187.60" y="361.20" font-size="9.9" text-anchor="start" fill="#1e1e1e" stroke="#1e1e1e" stroke-width="0.2" >uncleaved M-H</text>
<text x="260.00" y="197.20" font-size="14.5" text-anchor="start" fill="#1e1e1e" stroke="#1e1e1e" stroke-width="0.2" >D</text>
<line x1="311.10" y1="200.00" x2="311.10" y2="346.80" stroke="#000" stroke-width="1.5" />
<line x1="310.40" y1="346.00" x2="484.90" y2="346.00" stroke="#000" stroke-width="1.5" />
<line x1="311.10" y1="346.00" x2="313.70" y2="346.00" stroke="#000" stroke-width="1.1" />
<text x="299.60" y="349.40" font-size="9.9" text-anchor="end" fill="#1e1e1e" stroke="#1e1e1e" stroke-width="0.2" >0.0</text>
<line x1="311.10" y1="321.80" x2="313.70" y2="321.80" stroke="#000" stroke-width="1.1" />
<text x="299.60" y="325.20" font-size="9.9" text-anchor="end" fill="#1e1e1e" stroke="#1e1e1e" stroke-width="0.2" >0.2</text>
<line x1="311.10" y1="297.60" x2="313.70" y2="297.60" stroke="#000" stroke-width="1.1" />
<text x="299.60" y="301.00" font-size="9.9" text-anchor="end" fill="#1e1e1e" stroke="#1e1e1e" stroke-width="0.2" >0.4</text>
<line x1="311.10" y1="273.40" x2="313.70" y2="273.40" stroke="#000" stroke-width="1.1" />
<text x="299.60" y="276.80" font-size="9.9" text-anchor="end" fill="#1e1e1e" stroke="#1e1e1e" stroke-width="0.2" >0.6</text>
<line x1="311.10" y1="249.20" x2="313.70" y2="249.20" stroke="#000" stroke-width="1.1" />
<text x="299.60" y="252.60" font-size="9.9" text-anchor="end" fill="#1e1e1e" stroke="#1e1e1e" stroke-width="0.2" >0.8</text>
<line x1="311.10" y1="225.00" x2="313.70" y2="225.00" stroke="#000" stroke-width="1.1" />
<text x="299.60" y="228.40" font-size="9.9" text-anchor="end" fill="#1e1e1e" stroke="#1e1e1e" stroke-width="0.2" >1.0</text>
<line x1="311.10" y1="200.80" x2="313.70" y2="200.80" stroke="#000" stroke-width="1.1" />
<text x="299.60" y="204.20" font-size="9.9" text-anchor="end" fill="#1e1e1e" stroke="#1e1e1e" stroke-width="0.2" >1.2</text>
<line x1="311.10" y1="346.00" x2="311.10" y2="343.00" stroke="#000" stroke-width="0.9" />
<line x1="324.13" y1="346.00" x2="324.13" y2="344.00" stroke="#000" stroke-width="0.9" />
<line x1="331.76" y1="346.00" x2="331.76" y2="344.00" stroke="#000" stroke-width="0.9" />
<line x1="337.17" y1="346.00" x2="337.17" y2="344.00" stroke="#000" stroke-width="0.9" />
<line x1="341.37" y1="346.00" x2="341.37" y2="344.00" stroke="#000" stroke-width="0.9" />
<line x1="344.79" y1="346.00" x2="344.79" y2="344.00" stroke="#000" stroke-width="0.9" />
<line x1="347.69" y1="346.00" x2="347.69" y2="344.00" stroke="#000" stroke-width="0.9" />
<line x1="350.20" y1="346.00" x2="350.20" y2="344.00" stroke="#000" stroke-width="0.9" />
<line x1="352.42" y1="346.00" x2="352.42" y2="344.00" stroke="#000" stroke-width="0.9" />
<line x1="354.40" y1="346.00" x2="354.40" y2="343.00" stroke="#000" stroke-width="0.9" />
<line x1="367.43" y1="346.00" x2="367.43" y2="344.00" stroke="#000" stroke-width="0.9" />
<line x1="375.06" y1="346.00" x2="375.06" y2="344.00" stroke="#000" stroke-width="0.9" />
<line x1="380.47" y1="346.00" x2="380.47" y2="344.00" stroke="#000" stroke-width="0.9" />
<line x1="384.67" y1="346.00" x2="384.67" y2="344.00" stroke="#000" stroke-width="0.9" />
<line x1="388.09" y1="346.00" x2="388.09" y2="344.00" stroke="#000" stroke-width="0.9" />
<line x1="390.99" y1="346.00" x2="390.99" y2="344.00" stroke="#000" stroke-width="0.9" />
<line x1="393.50" y1="346.00" x2="393.50" y2="344.00" stroke="#000" stroke-width="0.9" />
<line x1="395.72" y1="346.00" x2="395.72" y2="344.00" stroke="#000" stroke-width="0.9" />
<line x1="397.70" y1="346.00" x2="397.70" y2="343.00" stroke="#000" stroke-width="0.9" />
<line x1="410.73" y1="346.00" x2="410.73" y2="344.00" stroke="#000" stroke-width="0.9" />
<line x1="418.36" y1="346.00" x2="418.36" y2="344.00" stroke="#000" stroke-width="0.9" />
<line x1="423.77" y1="346.00" x2="423.77" y2="344.00" stroke="#000" stroke-width="0.9" />
<line x1="427.97" y1="346.00" x2="427.97" y2="344.00" stroke="#000" stroke-width="0.9" />
<line x1="431.39" y1="346.00" x2="431.39" y2="344.00" stroke="#000" stroke-width="0.9" />
<line x1="434.29" y1="346.00" x2="434.29" y2="344.00" stroke="#000" stroke-width="0.9" />
<line x1="436.80" y1="346.00" x2="436.80" y2="344.00" stroke="#000" stroke-width="0.9" />
<line x1="439.02" y1="346.00" x2="439.02" y2="344.00" stroke="#000" stroke-width="0.9" />
<line x1="441.00" y1="346.00" x2="441.00" y2="343.00" stroke="#000" stroke-width="0.9" />
<line x1="454.03" y1="346.00" x2="454.03" y2="344.00" stroke="#000" stroke-width="0.9" />
<line x1="461.66" y1="346.00" x2="461.66" y2="344.00" stroke="#000" stroke-width="0.9" />
<line x1="467.07" y1="346.00" x2="467.07" y2="344.00" stroke="#000" stroke-width="0.9" />
<line x1="471.27" y1="346.00" x2="471.27" y2="344.00" stroke="#000" stroke-width="0.9" />
<line x1="474.69" y1="346.00" x2="474.69" y2="344.00" stroke="#000" stroke-width="0.9" />
<line x1="477.59" y1="346.00" x2="477.59" y2="344.00" stroke="#000" stroke-width="0.9" />
<line x1="480.10" y1="346.00" x2="480.10" y2="344.00" stroke="#000" stroke-width="0.9" />
<line x1="482.32" y1="346.00" x2="482.32" y2="344.00" stroke="#000" stroke-width="0.9" />
<line x1="484.30" y1="346.00" x2="484.30" y2="343.00" stroke="#000" stroke-width="0.9" />
<line x1="484.30" y1="346.00" x2="484.30" y2="343.00" stroke="#000" stroke-width="0.9" />
<text x="311.10" y="361.20" font-size="9.9" text-anchor="middle" fill="#1e1e1e" stroke="#1e1e1e" stroke-width="0.2" >0.001</text>
<text x="354.40" y="361.20" font-size="9.9" text-anchor="middle" fill="#1e1e1e" stroke="#1e1e1e" stroke-width="0.2" >0.01</text>
<text x="397.70" y="361.20" font-size="9.9" text-anchor="middle" fill="#1e1e1e" stroke="#1e1e1e" stroke-width="0.2" >0.1</text>
<text x="441.00" y="361.20" font-size="9.9" text-anchor="middle" fill="#1e1e1e" stroke="#1e1e1e" stroke-width="0.2" >1</text>
<text x="484.30" y="361.20" font-size="9.9" text-anchor="middle" fill="#1e1e1e" stroke="#1e1e1e" stroke-width="0.2" >10</text>
<text x="398.70" y="373.30" font-size="9.9" text-anchor="middle" fill="#1e1e1e" stroke="#1e1e1e" stroke-width="0.2" >Concentration of Staurosporine (uM)</text>
<text x="281.40" y="286.90" font-size="9.9" text-anchor="middle" fill="#1e1e1e" stroke="#1e1e1e" stroke-width="0.2" transform="rotate(-90 281.4 286.9)">Relative viability</text>
<line x1="331.76" y1="217.74" x2="331.76" y2="222.58" stroke="#7a7a7a" stroke-width="0.8" />
<line x1="330.26" y1="217.74" x2="333.26" y2="217.74" stroke="#7a7a7a" stroke-width="0.8" />
<line x1="330.26" y1="222.58" x2="333.26" y2="222.58" stroke="#7a7a7a" stroke-width="0.8" />
<line x1="354.40" y1="209.88" x2="354.40" y2="221.98" stroke="#7a7a7a" stroke-width="0.8" />
<line x1="352.90" y1="209.88" x2="355.90" y2="209.88" stroke="#7a7a7a" stroke-width="0.8" />
<line x1="352.90" y1="221.98" x2="355.90" y2="221.98" stroke="#7a7a7a" stroke-width="0.8" />
<line x1="375.06" y1="211.09" x2="375.06" y2="228.03" stroke="#7a7a7a" stroke-width="0.8" />
<line x1="373.56" y1="211.09" x2="376.56" y2="211.09" stroke="#7a7a7a" stroke-width="0.8" />
<line x1="373.56" y1="228.03" x2="376.56" y2="228.03" stroke="#7a7a7a" stroke-width="0.8" />
<line x1="397.70" y1="232.26" x2="397.70" y2="246.78" stroke="#7a7a7a" stroke-width="0.8" />
<line x1="396.20" y1="232.26" x2="399.20" y2="232.26" stroke="#7a7a7a" stroke-width="0.8" />
<line x1="396.20" y1="246.78" x2="399.20" y2="246.78" stroke="#7a7a7a" stroke-width="0.8" />
<line x1="418.36" y1="240.97" x2="418.36" y2="260.33" stroke="#7a7a7a" stroke-width="0.8" />
<line x1="416.86" y1="240.97" x2="419.86" y2="240.97" stroke="#7a7a7a" stroke-width="0.8" />
<line x1="416.86" y1="260.33" x2="419.86" y2="260.33" stroke="#7a7a7a" stroke-width="0.8" />
<line x1="441.00" y1="258.03" x2="441.00" y2="277.39" stroke="#7a7a7a" stroke-width="0.8" />
<line x1="439.50" y1="258.03" x2="442.50" y2="258.03" stroke="#7a7a7a" stroke-width="0.8" />
<line x1="439.50" y1="277.39" x2="442.50" y2="277.39" stroke="#7a7a7a" stroke-width="0.8" />
<line x1="461.66" y1="289.74" x2="461.66" y2="304.25" stroke="#7a7a7a" stroke-width="0.8" />
<line x1="460.16" y1="289.74" x2="463.16" y2="289.74" stroke="#7a7a7a" stroke-width="0.8" />
<line x1="460.16" y1="304.25" x2="463.16" y2="304.25" stroke="#7a7a7a" stroke-width="0.8" />
<line x1="484.30" y1="306.31" x2="484.30" y2="325.67" stroke="#7a7a7a" stroke-width="0.8" />
<line x1="482.80" y1="306.31" x2="485.80" y2="306.31" stroke="#7a7a7a" stroke-width="0.8" />
<line x1="482.80" y1="325.67" x2="485.80" y2="325.67" stroke="#7a7a7a" stroke-width="0.8" />
<line x1="331.76" y1="215.93" x2="331.76" y2="220.77" stroke="#8a8a8a" stroke-width="0.8" />
<line x1="330.26" y1="215.93" x2="333.26" y2="215.93" stroke="#8a8a8a" stroke-width="0.8" />
<line x1="330.26" y1="220.77" x2="333.26" y2="220.77" stroke="#8a8a8a" stroke-width="0.8" />
<line x1="354.40" y1="209.88" x2="354.40" y2="219.56" stroke="#8a8a8a" stroke-width="0.8" />
<line x1="352.90" y1="209.88" x2="355.90" y2="209.88" stroke="#8a8a8a" stroke-width="0.8" />
<line x1="352.90" y1="219.56" x2="355.90" y2="219.56" stroke="#8a8a8a" stroke-width="0.8" />
<line x1="375.06" y1="221.37" x2="375.06" y2="235.89" stroke="#8a8a8a" stroke-width="0.8" />
<line x1="373.56" y1="221.37" x2="376.56" y2="221.37" stroke="#8a8a8a" stroke-width="0.8" />
<line x1="373.56" y1="235.89" x2="376.56" y2="235.89" stroke="#8a8a8a" stroke-width="0.8" />
<line x1="397.70" y1="228.03" x2="397.70" y2="252.22" stroke="#8a8a8a" stroke-width="0.8" />
<line x1="396.20" y1="228.03" x2="399.20" y2="228.03" stroke="#8a8a8a" stroke-width="0.8" />
<line x1="396.20" y1="252.22" x2="399.20" y2="252.22" stroke="#8a8a8a" stroke-width="0.8" />
<line x1="418.36" y1="250.89" x2="418.36" y2="287.19" stroke="#8a8a8a" stroke-width="0.8" />
<line x1="416.86" y1="250.89" x2="419.86" y2="250.89" stroke="#8a8a8a" stroke-width="0.8" />
<line x1="416.86" y1="287.19" x2="419.86" y2="287.19" stroke="#8a8a8a" stroke-width="0.8" />
<line x1="441.00" y1="298.81" x2="441.00" y2="323.01" stroke="#8a8a8a" stroke-width="0.8" />
<line x1="439.50" y1="298.81" x2="442.50" y2="298.81" stroke="#8a8a8a" stroke-width="0.8" />
<line x1="439.50" y1="323.01" x2="442.50" y2="323.01" stroke="#8a8a8a" stroke-width="0.8" />
<line x1="461.66" y1="303.04" x2="461.66" y2="327.25" stroke="#8a8a8a" stroke-width="0.8" />
<line x1="460.16" y1="303.04" x2="463.16" y2="303.04" stroke="#8a8a8a" stroke-width="0.8" />
<line x1="460.16" y1="327.25" x2="463.16" y2="327.25" stroke="#8a8a8a" stroke-width="0.8" />
<line x1="484.30" y1="316.96" x2="484.30" y2="336.32" stroke="#8a8a8a" stroke-width="0.8" />
<line x1="482.80" y1="316.96" x2="485.80" y2="316.96" stroke="#8a8a8a" stroke-width="0.8" />
<line x1="482.80" y1="336.32" x2="485.80" y2="336.32" stroke="#8a8a8a" stroke-width="0.8" />
<line x1="331.76" y1="211.93" x2="331.76" y2="216.77" stroke="#8e8e8e" stroke-width="0.8" />
<line x1="330.26" y1="211.93" x2="333.26" y2="211.93" stroke="#8e8e8e" stroke-width="0.8" />
<line x1="330.26" y1="216.77" x2="333.26" y2="216.77" stroke="#8e8e8e" stroke-width="0.8" />
<line x1="354.40" y1="212.90" x2="354.40" y2="222.58" stroke="#8e8e8e" stroke-width="0.8" />
<line x1="352.90" y1="212.90" x2="355.90" y2="212.90" stroke="#8e8e8e" stroke-width="0.8" />
<line x1="352.90" y1="222.58" x2="355.90" y2="222.58" stroke="#8e8e8e" stroke-width="0.8" />
<line x1="375.06" y1="222.34" x2="375.06" y2="234.44" stroke="#8e8e8e" stroke-width="0.8" />
<line x1="373.56" y1="222.34" x2="376.56" y2="222.34" stroke="#8e8e8e" stroke-width="0.8" />
<line x1="373.56" y1="234.44" x2="376.56" y2="234.44" stroke="#8e8e8e" stroke-width="0.8" />
<line x1="397.70" y1="242.91" x2="397.70" y2="257.43" stroke="#8e8e8e" stroke-width="0.8" />
<line x1="396.20" y1="242.91" x2="399.20" y2="242.91" stroke="#8e8e8e" stroke-width="0.8" />
<line x1="396.20" y1="257.43" x2="399.20" y2="257.43" stroke="#8e8e8e" stroke-width="0.8" />
<line x1="418.36" y1="272.19" x2="418.36" y2="291.55" stroke="#8e8e8e" stroke-width="0.8" />
<line x1="416.86" y1="272.19" x2="419.86" y2="272.19" stroke="#8e8e8e" stroke-width="0.8" />
<line x1="416.86" y1="291.55" x2="419.86" y2="291.55" stroke="#8e8e8e" stroke-width="0.8" />
<line x1="441.00" y1="306.07" x2="441.00" y2="325.43" stroke="#8e8e8e" stroke-width="0.8" />
<line x1="439.50" y1="306.07" x2="442.50" y2="306.07" stroke="#8e8e8e" stroke-width="0.8" />
<line x1="439.50" y1="325.43" x2="442.50" y2="325.43" stroke="#8e8e8e" stroke-width="0.8" />
<line x1="461.66" y1="305.46" x2="461.66" y2="324.82" stroke="#8e8e8e" stroke-width="0.8" />
<line x1="460.16" y1="305.46" x2="463.16" y2="305.46" stroke="#8e8e8e" stroke-width="0.8" />
<line x1="460.16" y1="324.82" x2="463.16" y2="324.82" stroke="#8e8e8e" stroke-width="0.8" />
<line x1="484.30" y1="324.22" x2="484.30" y2="338.74" stroke="#8e8e8e" stroke-width="0.8" />
<line x1="482.80" y1="324.22" x2="485.80" y2="324.22" stroke="#8e8e8e" stroke-width="0.8" />
<line x1="482.80" y1="338.74" x2="485.80" y2="338.74" stroke="#8e8e8e" stroke-width="0.8" />
<line x1="331.76" y1="216.53" x2="331.76" y2="221.37" stroke="#aaaaaa" stroke-width="0.8" />
<line x1="330.26" y1="216.53" x2="333.26" y2="216.53" stroke="#aaaaaa" stroke-width="0.8" />
<line x1="330.26" y1="221.37" x2="333.26" y2="221.37" stroke="#aaaaaa" stroke-width="0.8" />
<line x1="354.40" y1="215.93" x2="354.40" y2="223.19" stroke="#aaaaaa" stroke-width="0.8" />
<line x1="352.90" y1="215.93" x2="355.90" y2="215.93" stroke="#aaaaaa" stroke-width="0.8" />
<line x1="352.90" y1="223.19" x2="355.90" y2="223.19" stroke="#aaaaaa" stroke-width="0.8" />
<line x1="375.06" y1="227.42" x2="375.06" y2="239.52" stroke="#aaaaaa" stroke-width="0.8" />
<line x1="373.56" y1="227.42" x2="376.56" y2="227.42" stroke="#aaaaaa" stroke-width="0.8" />
<line x1="373.56" y1="239.52" x2="376.56" y2="239.52" stroke="#aaaaaa" stroke-width="0.8" />
<line x1="397.70" y1="267.35" x2="397.70" y2="278.24" stroke="#aaaaaa" stroke-width="0.8" />
<line x1="396.20" y1="267.35" x2="399.20" y2="267.35" stroke="#aaaaaa" stroke-width="0.8" />
<line x1="396.20" y1="278.24" x2="399.20" y2="278.24" stroke="#aaaaaa" stroke-width="0.8" />
<line x1="418.36" y1="266.14" x2="418.36" y2="297.60" stroke="#aaaaaa" stroke-width="0.8" />
<line x1="416.86" y1="266.14" x2="419.86" y2="266.14" stroke="#aaaaaa" stroke-width="0.8" />
<line x1="416.86" y1="297.60" x2="419.86" y2="297.60" stroke="#aaaaaa" stroke-width="0.8" />
<line x1="441.00" y1="314.54" x2="441.00" y2="329.06" stroke="#aaaaaa" stroke-width="0.8" />
<line x1="439.50" y1="314.54" x2="442.50" y2="314.54" stroke="#aaaaaa" stroke-width="0.8" />
<line x1="439.50" y1="329.06" x2="442.50" y2="329.06" stroke="#aaaaaa" stroke-width="0.8" />
<line x1="461.66" y1="319.38" x2="461.66" y2="331.48" stroke="#aaaaaa" stroke-width="0.8" />
<line x1="460.16" y1="319.38" x2="463.16" y2="319.38" stroke="#aaaaaa" stroke-width="0.8" />
<line x1="460.16" y1="331.48" x2="463.16" y2="331.48" stroke="#aaaaaa" stroke-width="0.8" />
<line x1="484.30" y1="327.85" x2="484.30" y2="337.53" stroke="#aaaaaa" stroke-width="0.8" />
<line x1="482.80" y1="327.85" x2="485.80" y2="327.85" stroke="#aaaaaa" stroke-width="0.8" />
<line x1="482.80" y1="337.53" x2="485.80" y2="337.53" stroke="#aaaaaa" stroke-width="0.8" />
<line x1="331.76" y1="221.37" x2="331.76" y2="223.79" stroke="#999" stroke-width="0.8" />
<line x1="330.26" y1="221.37" x2="333.26" y2="221.37" stroke="#999" stroke-width="0.8" />
<line x1="330.26" y1="223.79" x2="333.26" y2="223.79" stroke="#999" stroke-width="0.8" />
<line x1="354.40" y1="235.28" x2="354.40" y2="241.34" stroke="#999" stroke-width="0.8" />
<line x1="352.90" y1="235.28" x2="355.90" y2="235.28" stroke="#999" stroke-width="0.8" />
<line x1="352.90" y1="241.34" x2="355.90" y2="241.34" stroke="#999" stroke-width="0.8" />
<line x1="375.06" y1="257.67" x2="375.06" y2="264.93" stroke="#999" stroke-width="0.8" />
<line x1="373.56" y1="257.67" x2="376.56" y2="257.67" stroke="#999" stroke-width="0.8" />
<line x1="373.56" y1="264.93" x2="376.56" y2="264.93" stroke="#999" stroke-width="0.8" />
<line x1="397.70" y1="305.22" x2="397.70" y2="319.74" stroke="#999" stroke-width="0.8" />
<line x1="396.20" y1="305.22" x2="399.20" y2="305.22" stroke="#999" stroke-width="0.8" />
<line x1="396.20" y1="319.74" x2="399.20" y2="319.74" stroke="#999" stroke-width="0.8" />
<line x1="418.36" y1="318.17" x2="418.36" y2="325.43" stroke="#999" stroke-width="0.8" />
<line x1="416.86" y1="318.17" x2="419.86" y2="318.17" stroke="#999" stroke-width="0.8" />
<line x1="416.86" y1="325.43" x2="419.86" y2="325.43" stroke="#999" stroke-width="0.8" />
<line x1="441.00" y1="336.93" x2="441.00" y2="341.77" stroke="#999" stroke-width="0.8" />
<line x1="439.50" y1="336.93" x2="442.50" y2="336.93" stroke="#999" stroke-width="0.8" />
<line x1="439.50" y1="341.77" x2="442.50" y2="341.77" stroke="#999" stroke-width="0.8" />
<line x1="461.66" y1="337.53" x2="461.66" y2="342.37" stroke="#999" stroke-width="0.8" />
<line x1="460.16" y1="337.53" x2="463.16" y2="337.53" stroke="#999" stroke-width="0.8" />
<line x1="460.16" y1="342.37" x2="463.16" y2="342.37" stroke="#999" stroke-width="0.8" />
<line x1="484.30" y1="338.13" x2="484.30" y2="342.98" stroke="#999" stroke-width="0.8" />
<line x1="482.80" y1="338.13" x2="485.80" y2="338.13" stroke="#999" stroke-width="0.8" />
<line x1="482.80" y1="342.98" x2="485.80" y2="342.98" stroke="#999" stroke-width="0.8" />
<line x1="331.76" y1="232.74" x2="331.76" y2="235.16" stroke="#999" stroke-width="0.8" />
<line x1="330.26" y1="232.74" x2="333.26" y2="232.74" stroke="#999" stroke-width="0.8" />
<line x1="330.26" y1="235.16" x2="333.26" y2="235.16" stroke="#999" stroke-width="0.8" />
<line x1="354.40" y1="256.22" x2="354.40" y2="263.48" stroke="#999" stroke-width="0.8" />
<line x1="352.90" y1="256.22" x2="355.90" y2="256.22" stroke="#999" stroke-width="0.8" />
<line x1="352.90" y1="263.48" x2="355.90" y2="263.48" stroke="#999" stroke-width="0.8" />
<line x1="375.06" y1="278.60" x2="375.06" y2="290.70" stroke="#999" stroke-width="0.8" />
<line x1="373.56" y1="278.60" x2="376.56" y2="278.60" stroke="#999" stroke-width="0.8" />
<line x1="373.56" y1="290.70" x2="376.56" y2="290.70" stroke="#999" stroke-width="0.8" />
<line x1="397.70" y1="307.28" x2="397.70" y2="319.38" stroke="#999" stroke-width="0.8" />
<line x1="396.20" y1="307.28" x2="399.20" y2="307.28" stroke="#999" stroke-width="0.8" />
<line x1="396.20" y1="319.38" x2="399.20" y2="319.38" stroke="#999" stroke-width="0.8" />
<line x1="418.36" y1="317.20" x2="418.36" y2="326.88" stroke="#999" stroke-width="0.8" />
<line x1="416.86" y1="317.20" x2="419.86" y2="317.20" stroke="#999" stroke-width="0.8" />
<line x1="416.86" y1="326.88" x2="419.86" y2="326.88" stroke="#999" stroke-width="0.8" />
<line x1="441.00" y1="338.98" x2="441.00" y2="343.82" stroke="#999" stroke-width="0.8" />
<line x1="439.50" y1="338.98" x2="442.50" y2="338.98" stroke="#999" stroke-width="0.8" />
<line x1="439.50" y1="343.82" x2="442.50" y2="343.82" stroke="#999" stroke-width="0.8" />
<line x1="461.66" y1="338.74" x2="461.66" y2="343.58" stroke="#999" stroke-width="0.8" />
<line x1="460.16" y1="338.74" x2="463.16" y2="338.74" stroke="#999" stroke-width="0.8" />
<line x1="460.16" y1="343.58" x2="463.16" y2="343.58" stroke="#999" stroke-width="0.8" />
<line x1="484.30" y1="338.98" x2="484.30" y2="343.82" stroke="#999" stroke-width="0.8" />
<line x1="482.80" y1="338.98" x2="485.80" y2="338.98" stroke="#999" stroke-width="0.8" />
<line x1="482.80" y1="343.82" x2="485.80" y2="343.82" stroke="#999" stroke-width="0.8" />
<line x1="331.76" y1="227.06" x2="331.76" y2="229.48" stroke="#999" stroke-width="0.8" />
<line x1="330.26" y1="227.06" x2="333.26" y2="227.06" stroke="#999" stroke-width="0.8" />
<line x1="330.26" y1="229.48" x2="333.26" y2="229.48" stroke="#999" stroke-width="0.8" />
<line x1="354.40" y1="253.80" x2="354.40" y2="258.64" stroke="#999" stroke-width="0.8" />
<line x1="352.90" y1="253.80" x2="355.90" y2="253.80" stroke="#999" stroke-width="0.8" />
<line x1="352.90" y1="258.64" x2="355.90" y2="258.64" stroke="#999" stroke-width="0.8" />
<line x1="375.06" y1="275.09" x2="375.06" y2="282.35" stroke="#999" stroke-width="0.8" />
<line x1="373.56" y1="275.09" x2="376.56" y2="275.09" stroke="#999" stroke-width="0.8" />
<line x1="373.56" y1="282.35" x2="376.56" y2="282.35" stroke="#999" stroke-width="0.8" />
<line x1="397.70" y1="321.19" x2="397.70" y2="328.45" stroke="#999" stroke-width="0.8" />
<line x1="396.20" y1="321.19" x2="399.20" y2="321.19" stroke="#999" stroke-width="0.8" />
<line x1="396.20" y1="328.45" x2="399.20" y2="328.45" stroke="#999" stroke-width="0.8" />
<line x1="418.36" y1="327.61" x2="418.36" y2="332.45" stroke="#999" stroke-width="0.8" />
<line x1="416.86" y1="327.61" x2="419.86" y2="327.61" stroke="#999" stroke-width="0.8" />
<line x1="416.86" y1="332.45" x2="419.86" y2="332.45" stroke="#999" stroke-width="0.8" />
<line x1="441.00" y1="334.14" x2="441.00" y2="338.98" stroke="#999" stroke-width="0.8" />
<line x1="439.50" y1="334.14" x2="442.50" y2="334.14" stroke="#999" stroke-width="0.8" />
<line x1="439.50" y1="338.98" x2="442.50" y2="338.98" stroke="#999" stroke-width="0.8" />
<line x1="461.66" y1="332.93" x2="461.66" y2="337.77" stroke="#999" stroke-width="0.8" />
<line x1="460.16" y1="332.93" x2="463.16" y2="332.93" stroke="#999" stroke-width="0.8" />
<line x1="460.16" y1="337.77" x2="463.16" y2="337.77" stroke="#999" stroke-width="0.8" />
<line x1="484.30" y1="334.63" x2="484.30" y2="339.47" stroke="#999" stroke-width="0.8" />
<line x1="482.80" y1="334.63" x2="485.80" y2="334.63" stroke="#999" stroke-width="0.8" />
<line x1="482.80" y1="339.47" x2="485.80" y2="339.47" stroke="#999" stroke-width="0.8" />
<path d="M311.10,225.00 C314.54,224.19 324.54,221.67 331.76,220.16 C338.98,218.65 347.18,216.03 354.40,215.93 C361.62,215.82 367.84,215.62 375.06,219.56 C382.28,223.49 390.48,234.34 397.70,239.52 C404.92,244.70 411.14,245.95 418.36,250.65 C425.58,255.35 433.78,259.99 441.00,267.71 C448.22,275.44 454.44,288.95 461.66,297.00 C468.88,305.04 480.53,312.83 484.30,315.99" fill="none" stroke="#7a7a7a" stroke-width="1.0" stroke-dasharray="6 2 1.2 2"/>
<rect x="309.10" y="223.00" width="4" height="4" fill="#fff" fill-opacity="0.3" stroke="#7a7a7a" stroke-width="0.9"/>
<rect x="329.76" y="218.16" width="4" height="4" fill="#fff" fill-opacity="0.3" stroke="#7a7a7a" stroke-width="0.9"/>
<rect x="352.40" y="213.93" width="4" height="4" fill="#fff" fill-opacity="0.3" stroke="#7a7a7a" stroke-width="0.9"/>
<rect x="373.06" y="217.56" width="4" height="4" fill="#fff" fill-opacity="0.3" stroke="#7a7a7a" stroke-width="0.9"/>
<rect x="395.70" y="237.52" width="4" height="4" fill="#fff" fill-opacity="0.3" stroke="#7a7a7a" stroke-width="0.9"/>
<rect x="416.36" y="248.65" width="4" height="4" fill="#fff" fill-opacity="0.3" stroke="#7a7a7a" stroke-width="0.9"/>
<rect x="439.00" y="265.71" width="4" height="4" fill="#fff" fill-opacity="0.3" stroke="#7a7a7a" stroke-width="0.9"/>
<rect x="459.66" y="295.00" width="4" height="4" fill="#fff" fill-opacity="0.3" stroke="#7a7a7a" stroke-width="0.9"/>
<rect x="482.30" y="313.99" width="4" height="4" fill="#fff" fill-opacity="0.3" stroke="#7a7a7a" stroke-width="0.9"/>
<path d="M311.10,225.00 C314.54,223.89 324.54,220.06 331.76,218.35 C338.98,216.63 347.18,213.00 354.40,214.72 C361.62,216.43 367.84,224.39 375.06,228.63 C382.28,232.87 390.48,233.39 397.70,240.12 C404.92,246.86 411.14,257.25 418.36,269.04 C425.58,280.84 433.78,303.23 441.00,310.91 C448.22,318.59 454.44,312.52 461.66,315.14 C468.88,317.77 480.53,324.72 484.30,326.64" fill="none" stroke="#8a8a8a" stroke-width="1.0" stroke-dasharray="4 2"/>
<circle cx="311.10" cy="225.00" r="1.9" fill="#fff" fill-opacity="0.3" stroke="#8a8a8a" stroke-width="0.9"/>
<circle cx="331.76" cy="218.35" r="1.9" fill="#fff" fill-opacity="0.3" stroke="#8a8a8a" stroke-width="0.9"/>
<circle cx="354.40" cy="214.72" r="1.9" fill="#fff" fill-opacity="0.3" stroke="#8a8a8a" stroke-width="0.9"/>
<circle cx="375.06" cy="228.63" r="1.9" fill="#fff" fill-opacity="0.3" stroke="#8a8a8a" stroke-width="0.9"/>
<circle cx="397.70" cy="240.12" r="1.9" fill="#fff" fill-opacity="0.3" stroke="#8a8a8a" stroke-width="0.9"/>
<circle cx="418.36" cy="269.04" r="1.9" fill="#fff" fill-opacity="0.3" stroke="#8a8a8a" stroke-width="0.9"/>
<circle cx="441.00" cy="310.91" r="1.9" fill="#fff" fill-opacity="0.3" stroke="#8a8a8a" stroke-width="0.9"/>
<circle cx="461.66" cy="315.14" r="1.9" fill="#fff" fill-opacity="0.3" stroke="#8a8a8a" stroke-width="0.9"/>
<circle cx="484.30" cy="326.64" r="1.9" fill="#fff" fill-opacity="0.3" stroke="#8a8a8a" stroke-width="0.9"/>
<path d="M311.10,225.00 C314.54,223.23 324.54,215.56 331.76,214.35 C338.98,213.14 347.18,215.40 354.40,217.74 C361.62,220.08 367.84,222.98 375.06,228.39 C382.28,233.79 390.48,241.25 397.70,250.17 C404.92,259.08 411.14,270.94 418.36,281.87 C425.58,292.80 433.78,310.20 441.00,315.75 C448.22,321.30 454.44,312.52 461.66,315.14 C468.88,317.77 480.53,328.76 484.30,331.48" fill="none" stroke="#8e8e8e" stroke-width="0.9" />
<polygon points="311.10,223.20 312.90,225.00 311.10,226.80 309.30,225.00" fill="#fff" fill-opacity="0.3" stroke="#8e8e8e" stroke-width="0.8"/>
<polygon points="331.76,212.55 333.56,214.35 331.76,216.15 329.96,214.35" fill="#fff" fill-opacity="0.3" stroke="#8e8e8e" stroke-width="0.8"/>
<polygon points="354.40,215.94 356.20,217.74 354.40,219.54 352.60,217.74" fill="#fff" fill-opacity="0.3" stroke="#8e8e8e" stroke-width="0.8"/>
<polygon points="375.06,226.59 376.86,228.39 375.06,230.19 373.26,228.39" fill="#fff" fill-opacity="0.3" stroke="#8e8e8e" stroke-width="0.8"/>
<polygon points="397.70,248.37 399.50,250.17 397.70,251.97 395.90,250.17" fill="#fff" fill-opacity="0.3" stroke="#8e8e8e" stroke-width="0.8"/>
<polygon points="418.36,280.07 420.16,281.87 418.36,283.67 416.56,281.87" fill="#fff" fill-opacity="0.3" stroke="#8e8e8e" stroke-width="0.8"/>
<polygon points="441.00,313.95 442.80,315.75 441.00,317.55 439.20,315.75" fill="#fff" fill-opacity="0.3" stroke="#8e8e8e" stroke-width="0.8"/>
<polygon points="461.66,313.34 463.46,315.14 461.66,316.94 459.86,315.14" fill="#fff" fill-opacity="0.3" stroke="#8e8e8e" stroke-width="0.8"/>
<polygon points="484.30,329.68 486.10,331.48 484.30,333.28 482.50,331.48" fill="#fff" fill-opacity="0.3" stroke="#8e8e8e" stroke-width="0.8"/>
<path d="M311.10,225.00 C314.54,223.99 324.54,219.86 331.76,218.95 C338.98,218.04 347.18,217.13 354.40,219.56 C361.62,221.98 367.84,224.60 375.06,233.47 C382.28,242.34 390.48,264.73 397.70,272.80 C404.92,280.86 411.14,273.70 418.36,281.87 C425.58,290.04 433.78,314.54 441.00,321.80 C448.22,329.06 454.44,323.62 461.66,325.43 C468.88,327.25 480.53,331.48 484.30,332.69" fill="none" stroke="#aaaaaa" stroke-width="1.0" stroke-dasharray="2 1.5"/>
<polygon points="311.10,223.00 313.10,226.60 309.10,226.60" fill="#fff" fill-opacity="0.3" stroke="#aaaaaa" stroke-width="0.8"/>
<polygon points="331.76,216.95 333.76,220.55 329.76,220.55" fill="#fff" fill-opacity="0.3" stroke="#aaaaaa" stroke-width="0.8"/>
<polygon points="354.40,217.56 356.40,221.16 352.40,221.16" fill="#fff" fill-opacity="0.3" stroke="#aaaaaa" stroke-width="0.8"/>
<polygon points="375.06,231.47 377.06,235.07 373.06,235.07" fill="#fff" fill-opacity="0.3" stroke="#aaaaaa" stroke-width="0.8"/>
<polygon points="397.70,270.80 399.70,274.40 395.70,274.40" fill="#fff" fill-opacity="0.3" stroke="#aaaaaa" stroke-width="0.8"/>
<polygon points="418.36,279.87 420.36,283.47 416.36,283.47" fill="#fff" fill-opacity="0.3" stroke="#aaaaaa" stroke-width="0.8"/>
<polygon points="441.00,319.80 443.00,323.40 439.00,323.40" fill="#fff" fill-opacity="0.3" stroke="#aaaaaa" stroke-width="0.8"/>
<polygon points="461.66,323.43 463.66,327.03 459.66,327.03" fill="#fff" fill-opacity="0.3" stroke="#aaaaaa" stroke-width="0.8"/>
<polygon points="484.30,330.69 486.30,334.29 482.30,334.29" fill="#fff" fill-opacity="0.3" stroke="#aaaaaa" stroke-width="0.8"/>
<path d="M311.10,225.00 C314.54,224.60 324.54,220.36 331.76,222.58 C338.98,224.80 347.18,231.86 354.40,238.31 C361.62,244.76 367.84,248.94 375.06,261.30 C382.28,273.66 390.48,302.40 397.70,312.48 C404.92,322.57 411.14,317.32 418.36,321.80 C425.58,326.28 433.78,336.32 441.00,339.35 C448.22,342.37 454.44,339.75 461.66,339.95 C468.88,340.15 480.53,340.45 484.30,340.56" fill="none" stroke="#000" stroke-width="1.3" stroke-dasharray="5 2.5"/>
<polygon points="331.76,220.58 333.56,222.58 331.76,224.58 329.96,222.58" fill="#000"/>
<polygon points="354.40,236.31 356.20,238.31 354.40,240.31 352.60,238.31" fill="#000"/>
<polygon points="375.06,259.30 376.86,261.30 375.06,263.30 373.26,261.30" fill="#000"/>
<polygon points="397.70,310.48 399.50,312.48 397.70,314.48 395.90,312.48" fill="#000"/>
<polygon points="418.36,319.80 420.16,321.80 418.36,323.80 416.56,321.80" fill="#000"/>
<polygon points="441.00,337.35 442.80,339.35 441.00,341.35 439.20,339.35" fill="#000"/>
<polygon points="461.66,337.95 463.46,339.95 461.66,341.95 459.86,339.95" fill="#000"/>
<polygon points="484.30,338.56 486.10,340.56 484.30,342.56 482.50,340.56" fill="#000"/>
<path d="M311.10,225.00 C314.54,226.49 324.54,228.15 331.76,233.95 C338.98,239.76 347.18,251.40 354.40,259.85 C361.62,268.30 367.84,275.74 375.06,284.65 C382.28,293.57 390.48,307.10 397.70,313.33 C404.92,319.56 411.14,317.36 418.36,322.04 C425.58,326.72 433.78,338.22 441.00,341.40 C448.22,344.59 454.44,341.16 461.66,341.16 C468.88,341.16 480.53,341.36 484.30,341.40" fill="none" stroke="#000" stroke-width="1.0" stroke-dasharray="3 1.5 1 1.5"/>
<polygon points="331.76,231.65 334.06,235.75 329.46,235.75" fill="#000"/>
<polygon points="354.40,257.55 356.70,261.65 352.10,261.65" fill="#000"/>
<polygon points="375.06,282.35 377.36,286.45 372.76,286.45" fill="#000"/>
<polygon points="397.70,311.03 400.00,315.13 395.40,315.13" fill="#000"/>
<polygon points="418.36,319.74 420.66,323.84 416.06,323.84" fill="#000"/>
<polygon points="441.00,339.10 443.30,343.20 438.70,343.20" fill="#000"/>
<polygon points="461.66,338.86 463.96,342.96 459.36,342.96" fill="#000"/>
<polygon points="484.30,339.10 486.60,343.20 482.00,343.20" fill="#000"/>
<path d="M311.10,225.00 C314.54,225.54 324.54,223.06 331.76,228.27 C338.98,233.47 347.18,247.81 354.40,256.22 C361.62,264.63 367.84,267.29 375.06,278.72 C382.28,290.16 390.48,316.27 397.70,324.82 C404.92,333.38 411.14,328.07 418.36,330.03 C425.58,331.98 433.78,335.67 441.00,336.56 C448.22,337.45 454.44,335.27 461.66,335.35 C468.88,335.43 480.53,336.76 484.30,337.05" fill="none" stroke="#000" stroke-width="1.3" />
<circle cx="331.76" cy="228.27" r="2.1" fill="#000"/>
<circle cx="354.40" cy="256.22" r="2.1" fill="#000"/>
<circle cx="375.06" cy="278.72" r="2.1" fill="#000"/>
<circle cx="397.70" cy="324.82" r="2.1" fill="#000"/>
<circle cx="418.36" cy="330.03" r="2.1" fill="#000"/>
<circle cx="441.00" cy="336.56" r="2.1" fill="#000"/>
<circle cx="461.66" cy="335.35" r="2.1" fill="#000"/>
<circle cx="484.30" cy="337.05" r="2.1" fill="#000"/>
<rect x="309.10" y="223.00" width="4" height="4" fill="#fff" fill-opacity="0.3" stroke="#777" stroke-width="0.9"/>
<line x1="447.20" y1="186.00" x2="465.60" y2="186.00" stroke="#000" stroke-width="1.3" />
<circle cx="456.10" cy="186.00" r="2.1" fill="#000"/>
<text x="468.00" y="189.10" font-size="9.9" text-anchor="start" fill="#1e1e1e" stroke="#1e1e1e" stroke-width="0.2" >Kasumi7</text>
<line x1="447.20" y1="197.20" x2="465.60" y2="197.20" stroke="#000" stroke-width="1.3" />
<polygon points="456.10,195.20 457.90,197.20 456.10,199.20 454.30,197.20" fill="#000"/>
<text x="468.00" y="200.30" font-size="9.9" text-anchor="start" fill="#1e1e1e" stroke="#1e1e1e" stroke-width="0.2" >Kasumi9</text>
<line x1="447.20" y1="208.50" x2="450.20" y2="208.50" stroke="#000" stroke-width="1.0" />
<line x1="459.00" y1="208.50" x2="462.40" y2="208.50" stroke="#000" stroke-width="1.0" />
<polygon points="456.10,206.20 458.40,210.30 453.80,210.30" fill="#000"/>
<text x="468.00" y="211.60" font-size="9.9" text-anchor="start" fill="#1e1e1e" stroke="#1e1e1e" stroke-width="0.2" >TS-2</text>
<line x1="447.20" y1="219.20" x2="450.40" y2="219.20" stroke="#8a8a8a" stroke-width="1.0" />
<line x1="458.40" y1="219.20" x2="462.40" y2="219.20" stroke="#8a8a8a" stroke-width="1.0" />
<circle cx="456.10" cy="219.20" r="1.9" fill="#fff" fill-opacity="0.3" stroke="#8a8a8a" stroke-width="0.9"/>
<text x="468.00" y="222.30" font-size="9.9" text-anchor="start" fill="#1e1e1e" stroke="#1e1e1e" stroke-width="0.2" >NPHA1</text>
<line x1="447.20" y1="230.00" x2="465.60" y2="230.00" stroke="#8e8e8e" stroke-width="0.9" />
<polygon points="456.10,228.20 457.90,230.00 456.10,231.80 454.30,230.00" fill="#fff" fill-opacity="0.3" stroke="#8e8e8e" stroke-width="0.8"/>
<text x="468.00" y="233.10" font-size="9.9" text-anchor="start" fill="#1e1e1e" stroke="#1e1e1e" stroke-width="0.2" >ALL-1</text>
<line x1="447.20" y1="241.50" x2="449.40" y2="241.50" stroke="#aaaaaa" stroke-width="1.0" />
<line x1="450.80" y1="241.50" x2="453.00" y2="241.50" stroke="#aaaaaa" stroke-width="1.0" />
<line x1="459.40" y1="241.50" x2="461.60" y2="241.50" stroke="#aaaaaa" stroke-width="1.0" />
<line x1="463.00" y1="241.50" x2="465.20" y2="241.50" stroke="#aaaaaa" stroke-width="1.0" />
<polygon points="456.10,239.50 458.10,243.10 454.10,243.10" fill="#fff" fill-opacity="0.3" stroke="#aaaaaa" stroke-width="0.8"/>
<text x="468.00" y="244.60" font-size="9.9" text-anchor="start" fill="#1e1e1e" stroke="#1e1e1e" stroke-width="0.2" >Daudi</text>
<line x1="447.20" y1="251.80" x2="454.20" y2="251.80" stroke="#7a7a7a" stroke-width="1.0" />
<line x1="461.00" y1="251.80" x2="463.40" y2="251.80" stroke="#7a7a7a" stroke-width="1.0" />
<rect x="454.10" y="249.80" width="4" height="4" fill="#fff" fill-opacity="0.3" stroke="#7a7a7a" stroke-width="0.9"/>
<text x="468.00" y="254.90" font-size="9.9" text-anchor="start" fill="#1e1e1e" stroke="#1e1e1e" stroke-width="0.2" >K562</text>
</svg></body></html>
